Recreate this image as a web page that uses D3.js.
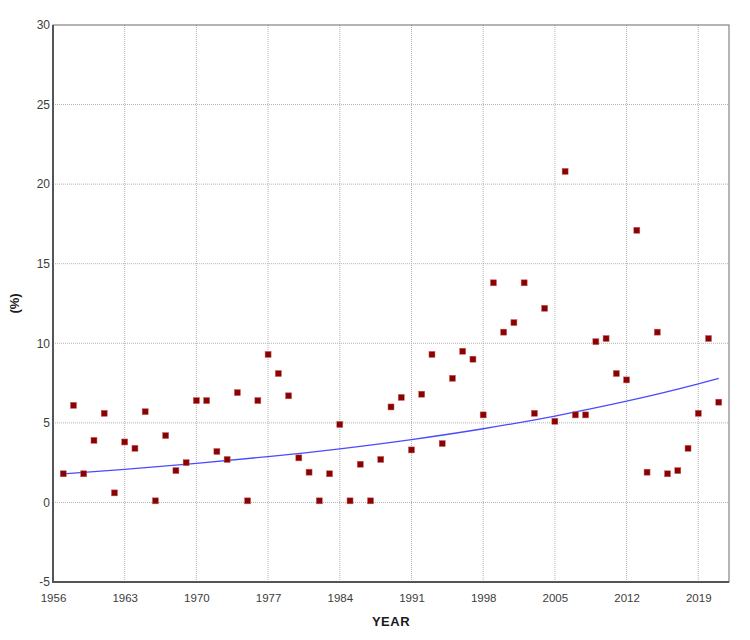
<!DOCTYPE html>
<html>
<head>
<meta charset="utf-8">
<script src="https://cdn.jsdelivr.net/npm/d3@7"></script>
<style>
  body { margin: 0; background: #fff; }
  text { font-family: "Liberation Sans", Arial, sans-serif; }
</style>
</head>
<body>
<script>
var width = 750,
    height = 640;

var margin = { top: 25, right: 21, bottom: 58, left: 53 };

// yearly values (%)
var years = [1957, 1958, 1959, 1960, 1961, 1962, 1963, 1964, 1965, 1966,
  1967, 1968, 1969, 1970, 1971, 1972, 1973, 1974, 1975, 1976,
  1977, 1978, 1979, 1980, 1981, 1982, 1983, 1984, 1985, 1986,
  1987, 1988, 1989, 1990, 1991, 1992, 1993, 1994, 1995, 1996,
  1997, 1998, 1999, 2000, 2001, 2002, 2003, 2004, 2005, 2006,
  2007, 2008, 2009, 2010, 2011, 2012, 2013, 2014, 2015, 2016,
  2017, 2018, 2019, 2020, 2021];

var values = [1.8, 6.1, 1.8, 3.9, 5.6, 0.6, 3.8, 3.4, 5.7, 0.1,
  4.2, 2.0, 2.5, 6.4, 6.4, 3.2, 2.7, 6.9, 0.1, 6.4,
  9.3, 8.1, 6.7, 2.8, 1.9, 0.1, 1.8, 4.9, 0.1, 2.4,
  0.1, 2.7, 6.0, 6.6, 3.3, 6.8, 9.3, 3.7, 7.8, 9.5,
  9.0, 5.5, 13.8, 10.7, 11.3, 13.8, 5.6, 12.2, 5.1, 20.8,
  5.5, 5.5, 10.1, 10.3, 8.1, 7.7, 17.1, 1.9, 10.7, 1.8,
  2.0, 3.4, 5.6, 10.3, 6.3];

// trend line
var trendYears = [1957, 1963, 1970, 1977, 1984, 1991, 1998, 2005, 2012, 2019, 2021];
var trendValues = [1.8, 2.08, 2.45, 2.88, 3.37, 3.95, 4.63, 5.43, 6.36, 7.45, 7.8];

var xTicks = [1956, 1963, 1970, 1977, 1984, 1991, 1998, 2005, 2012, 2019];
var yTicks = [-5, 0, 5, 10, 15, 20, 25, 30];

var x = d3.scaleLinear()
  .domain([1956, 2022])
  .range([margin.left, width - margin.right]);

var y = d3.scaleLinear()
  .domain([-5, 30])
  .range([height - margin.bottom, margin.top]);

var svg = d3.select('body')
  .append('svg')
  .attr('width', width)
  .attr('height', height);

// grid
svg.append('g')
  .selectAll('line')
  .data(xTicks.slice(1))
  .enter().append('line')
  .attr('x1', function (d) { return x(d); })
  .attr('x2', function (d) { return x(d); })
  .attr('y1', y(30))
  .attr('y2', y(-5))
  .attr('stroke', '#b4b4b4')
  .attr('stroke-dasharray', '1,1');

svg.append('g')
  .selectAll('line')
  .data(yTicks.slice(1, -1))
  .enter().append('line')
  .attr('x1', x(1956))
  .attr('x2', x(2022))
  .attr('y1', function (d) { return y(d); })
  .attr('y2', function (d) { return y(d); })
  .attr('stroke', '#b4b4b4')
  .attr('stroke-dasharray', '1,1');

// frame
svg.append('rect')
  .attr('x', x(1956))
  .attr('y', y(30))
  .attr('width', x(2022) - x(1956))
  .attr('height', y(-5) - y(30))
  .attr('fill', 'none')
  .attr('stroke', '#6a6a6a')
  .attr('stroke-width', 1);

svg.append('line')
  .attr('x1', x(1956)).attr('x2', x(1956))
  .attr('y1', y(30)).attr('y2', y(-5) + 1)
  .attr('stroke', '#555')
  .attr('stroke-width', 2);

svg.append('line')
  .attr('x1', x(1956)).attr('x2', x(2022))
  .attr('y1', y(-5)).attr('y2', y(-5))
  .attr('stroke', '#555')
  .attr('stroke-width', 2);

// axes (labels only)
var xAxis = svg.append('g')
  .attr('transform', 'translate(0,' + y(-5) + ')')
  .call(d3.axisBottom(x).tickValues(xTicks).tickFormat(d3.format('d')).tickSize(0).tickPadding(12));

var yAxis = svg.append('g')
  .attr('transform', 'translate(' + x(1956) + ',0)')
  .call(d3.axisLeft(y).tickValues(yTicks).tickFormat(function (d) { return String(d); })
    .tickSize(0).tickPadding(3));

[xAxis, yAxis].forEach(function (g) {
  g.select('.domain').remove();
  g.selectAll('text')
    .attr('fill', '#3c3c3c')
    .style('font-size', '12px')
    .style('font-family', '"Liberation Sans", Arial, sans-serif');
});
xAxis.selectAll('text').style('font-size', '11.5px');

// trend
var line = d3.line()
  .x(function (d, i) { return x(trendYears[i]); })
  .y(function (d) { return y(d); })
  .curve(d3.curveMonotoneX);

svg.append('path')
  .datum(trendValues)
  .attr('d', line)
  .attr('fill', 'none')
  .attr('stroke', '#4a4aff')
  .attr('stroke-width', 1.3);

// points
svg.append('g')
  .selectAll('rect')
  .data(values)
  .enter().append('rect')
  .attr('x', function (d, i) { return x(years[i]) - 3; })
  .attr('y', function (d) { return y(d) - 3; })
  .attr('width', 6)
  .attr('height', 6)
  .attr('fill', '#8b0000')
  .attr('stroke', '#c06060')
  .attr('stroke-width', 0.5);

// titles
svg.append('text')
  .attr('x', (x(1956) + x(2022)) / 2)
  .attr('y', 626)
  .attr('text-anchor', 'middle')
  .style('font-size', '13px')
  .style('font-weight', 'bold')
  .style('letter-spacing', '0.5px')
  .attr('fill', '#1a1a1a')
  .text('YEAR');

svg.append('text')
  .attr('transform', 'translate(19,' + y(12.5) + ') rotate(-90)')
  .attr('text-anchor', 'middle')
  .style('font-size', '13px')
  .style('font-weight', 'bold')
  .attr('fill', '#1a1a1a')
  .text('(%)');
</script>
</body>
</html>
